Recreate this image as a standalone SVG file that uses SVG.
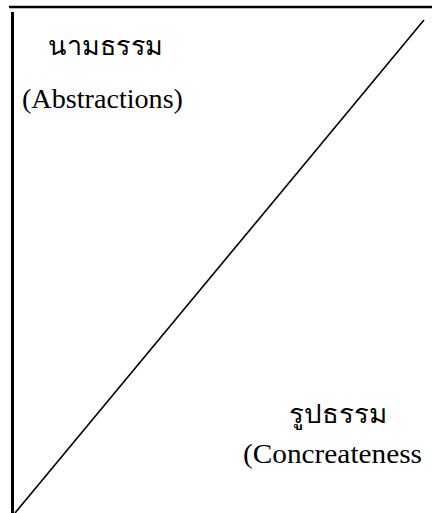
<svg xmlns="http://www.w3.org/2000/svg" width="432" height="513" viewBox="0 0 432 513">
<style>
.ln{stroke:#000;fill:none;stroke-linecap:butt}
.th{font-family:"Liberation Serif","Noto Sans",serif;fill:#000}
.en{font-family:"Liberation Serif",serif;fill:#000}
</style>
<rect width="432" height="513" fill="#fff"/>
<g id="axes">
<line class="ln" x1="9" y1="7" x2="432" y2="7" stroke-width="2.5"/>
<line class="ln" x1="12.5" y1="12" x2="12.5" y2="513" stroke-width="3"/>
<line class="ln" x1="15" y1="513" x2="424" y2="20" stroke-width="1.6"/>
</g>
<g id="abstract">
<text class="th" x="48" y="55" font-size="26" textLength="115" lengthAdjust="spacingAndGlyphs">นามธรรม</text>
<text class="en" x="22" y="108" font-size="27" textLength="161" lengthAdjust="spacingAndGlyphs">(Abstractions)</text>
</g>
<g id="concrete">
<text class="th" x="289" y="423" font-size="26" textLength="98" lengthAdjust="spacingAndGlyphs">รูปธรรม</text>
<text class="en" x="243" y="463" font-size="27" textLength="179" lengthAdjust="spacingAndGlyphs">(Concreateness</text>
</g>
</svg>
